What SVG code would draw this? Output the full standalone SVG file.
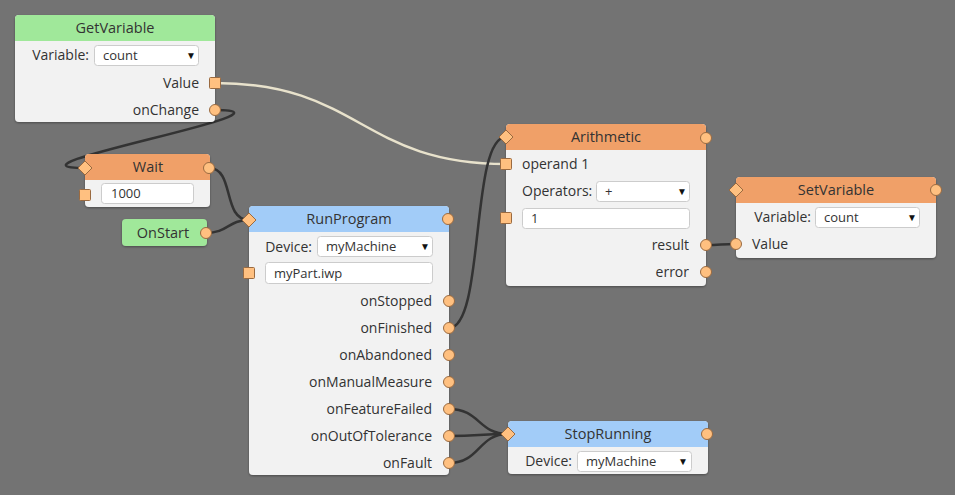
<svg xmlns="http://www.w3.org/2000/svg" width="955" height="495" viewBox="0 0 955 495">
<defs>
<filter id="sh" x="-10%" y="-10%" width="120%" height="130%"><feDropShadow dx="0" dy="1" stdDeviation="1.2" flood-color="#000" flood-opacity="0.35"/></filter>
</defs>
<style>
text{font-family:"Open Sans","Noto Sans","Liberation Sans",sans-serif;font-size:14px;fill:#333}
.t{text-anchor:middle;font-size:14.5px}
.r{text-anchor:end}
.s{font-size:13px}
.body{fill:#f2f2f2}
.hg{fill:#a0e89a}
.ho{fill:#f0a068}
.hb{fill:#a2ccf8}
.box{fill:#fff;stroke:#ccc;stroke-width:1}
.p{fill:#ffc080;stroke:#9a6a40;stroke-width:1}
.c{fill:none;stroke:#333;stroke-width:2.5}
.cv{fill:none;stroke:#e8e2cc;stroke-width:2.5}
.arr{font-size:10px;fill:#111}
</style>
<rect width="955" height="495" fill="#737373"/>
<g id="connectors">
<path class="cv" d="M215,83 C360,83 361,164 506,164"/>
<path class="c" d="M215,110 C315,110 -15,168 85,168"/>
<path class="c" d="M209,168 C235,168 222,220 249,220"/>
<path class="c" d="M206,233 C228,233 228,220 249,220"/>
<path class="c" d="M449,328 C485,328 470,137 506,137"/>
<path class="c" d="M706,245 C720,245 722,244 736,244"/>
<path class="c" d="M449,409 C480,409 478,434 508,434"/>
<path class="c" d="M449,436 C480,436 478,434 508,434"/>
<path class="c" d="M449,463 C480,463 478,434 508,434"/>
</g>
<g id="GetVariable">
<rect class="body" x="15" y="15" width="200" height="107" rx="4" filter="url(#sh)"/>
<path class="hg" d="M15,41 V19 a4,4 0 0 1 4,-4 H211 a4,4 0 0 1 4,4 V41 Z"/>
<text class="t" x="115" y="33">GetVariable</text>
<text class="r" x="89" y="60">Variable:</text>
<rect class="box" x="94.5" y="45.5" width="104" height="20" rx="3"/>
<text class="s" x="103" y="60">count</text>
<text class="arr" x="186" y="59">▼</text>
<text class="r" x="199" y="88">Value</text>
<rect class="p" x="209.5" y="77.5" width="11" height="11" rx="1"/>
<text class="r" x="199" y="115">onChange</text>
<circle class="p" cx="215" cy="110" r="5.5"/>
</g>
<g id="Wait">
<rect class="body" x="85" y="154" width="125" height="53" rx="4" filter="url(#sh)"/>
<path class="ho" d="M85,180 V158 a4,4 0 0 1 4,-4 H206 a4,4 0 0 1 4,4 V180 Z"/>
<text class="t" x="148" y="172">Wait</text>
<rect class="box" x="101.5" y="183.5" width="92" height="20" rx="3"/>
<text class="s" x="111" y="198">1000</text>
<rect class="p" x="79.5" y="189.5" width="11" height="11" rx="1"/>
<path class="p" d="M85,161 L92,168 L85,175 L78,168 Z"/>
<circle class="p" cx="209" cy="168" r="5.5"/>
</g>
<g id="OnStart">
<rect class="hg" x="122" y="219" width="85" height="27" rx="4" filter="url(#sh)"/>
<text class="t" x="163" y="238">OnStart</text>
<circle class="p" cx="206" cy="233" r="5.5"/>
</g>
<g id="RunProgram">
<rect class="body" x="249" y="206" width="200" height="269" rx="4" filter="url(#sh)"/>
<path class="hb" d="M249,232 V210 a4,4 0 0 1 4,-4 H445 a4,4 0 0 1 4,4 V232 Z"/>
<text class="t" x="349" y="224">RunProgram</text>
<path class="p" d="M249,213 L256,220 L249,227 L242,220 Z"/>
<circle class="p" cx="448" cy="219" r="5.5"/>
<text class="r" x="312" y="252">Device:</text>
<rect class="box" x="317.5" y="236.5" width="115" height="20" rx="3"/>
<text class="s" x="326" y="251">myMachine</text>
<text class="arr" x="420" y="250">▼</text>
<rect class="box" x="265.5" y="262.5" width="167" height="21" rx="3"/>
<text class="s" x="274" y="278">myPart.iwp</text>
<rect class="p" x="243.5" y="267.5" width="11" height="11" rx="1"/>
<text class="r" x="432" y="306">onStopped</text>
<circle class="p" cx="449" cy="301" r="5.5"/>
<text class="r" x="432" y="333">onFinished</text>
<circle class="p" cx="449" cy="328" r="5.5"/>
<text class="r" x="432" y="360">onAbandoned</text>
<circle class="p" cx="449" cy="355" r="5.5"/>
<text class="r" x="432" y="387">onManualMeasure</text>
<circle class="p" cx="449" cy="382" r="5.5"/>
<text class="r" x="432" y="414">onFeatureFailed</text>
<circle class="p" cx="449" cy="409" r="5.5"/>
<text class="r" x="432" y="441">onOutOfTolerance</text>
<circle class="p" cx="449" cy="436" r="5.5"/>
<text class="r" x="432" y="468">onFault</text>
<circle class="p" cx="449" cy="463" r="5.5"/>
</g>
<g id="Arithmetic">
<rect class="body" x="506" y="124" width="200" height="162" rx="4" filter="url(#sh)"/>
<path class="ho" d="M506,150 V128 a4,4 0 0 1 4,-4 H702 a4,4 0 0 1 4,4 V150 Z"/>
<text class="t" x="606" y="142">Arithmetic</text>
<path class="p" d="M506,130 L513,137 L506,144 L499,137 Z"/>
<circle class="p" cx="706" cy="138" r="5.5"/>
<rect class="p" x="500.5" y="158.5" width="11" height="11" rx="1"/>
<text x="522" y="169">operand 1</text>
<text x="522" y="196">Operators:</text>
<rect class="box" x="596.5" y="181.5" width="93" height="20" rx="3"/>
<text class="s" x="605" y="196">+</text>
<text class="arr" x="677" y="195">▼</text>
<rect class="box" x="522.5" y="208.5" width="167" height="20" rx="3"/>
<text class="s" x="531" y="223">1</text>
<rect class="p" x="500.5" y="212.5" width="11" height="11" rx="1"/>
<text class="r" x="689" y="250">result</text>
<circle class="p" cx="706" cy="245" r="5.5"/>
<text class="r" x="689" y="277">error</text>
<circle class="p" cx="706" cy="272" r="5.5"/>
</g>
<g id="SetVariable">
<rect class="body" x="736" y="177" width="200" height="81" rx="4" filter="url(#sh)"/>
<path class="ho" d="M736,203 V181 a4,4 0 0 1 4,-4 H932 a4,4 0 0 1 4,4 V203 Z"/>
<text class="t" x="836" y="195">SetVariable</text>
<path class="p" d="M736,183 L743,190 L736,197 L729,190 Z"/>
<circle class="p" cx="936" cy="190" r="5.5"/>
<text class="r" x="811" y="222">Variable:</text>
<rect class="box" x="815.5" y="207.5" width="104" height="20" rx="3"/>
<text class="s" x="824" y="222">count</text>
<text class="arr" x="907" y="221">▼</text>
<circle class="p" cx="736" cy="244" r="5.5"/>
<text x="752" y="249">Value</text>
</g>
<g id="StopRunning">
<rect class="body" x="508" y="421" width="200" height="53" rx="4" filter="url(#sh)"/>
<path class="hb" d="M508,447 V425 a4,4 0 0 1 4,-4 H704 a4,4 0 0 1 4,4 V447 Z"/>
<text class="t" x="608" y="439">StopRunning</text>
<path class="p" d="M508,427 L515,434 L508,441 L501,434 Z"/>
<circle class="p" cx="707" cy="434" r="5.5"/>
<text class="r" x="572" y="466">Device:</text>
<rect class="box" x="577.5" y="451.5" width="114" height="20" rx="3"/>
<text class="s" x="586" y="466">myMachine</text>
<text class="arr" x="678" y="465">▼</text>
</g>
</svg>
